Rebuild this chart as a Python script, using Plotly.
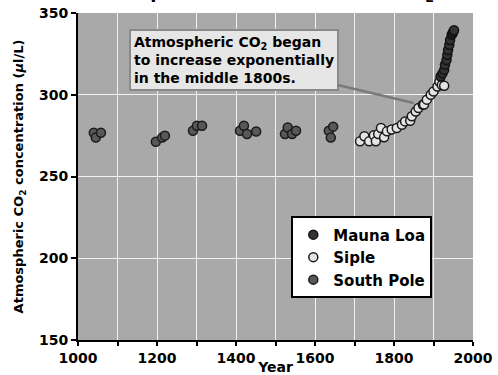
import plotly.graph_objects as go

# ---------------- data ----------------
south_pole_year = [1040, 1045, 1058, 1197, 1213, 1220, 1291, 1301, 1314,
                   1410, 1420, 1428, 1451, 1524, 1531, 1542, 1552, 1635, 1640, 1646]
south_pole_co2 = [276.8, 273.8, 276.8, 271.3, 273.8, 275.0, 278.0, 281.0, 281.0,
                  278.0, 281.0, 276.0, 277.5, 276.0, 280.0, 276.0, 278.0, 278.0, 273.8, 280.5]

siple_year = [1714, 1725, 1737, 1749, 1754, 1760, 1767, 1775, 1782, 1794, 1807, 1820,
              1828, 1841, 1845, 1855, 1862, 1873, 1876, 1883, 1893, 1900, 1910, 1915,
              1921, 1927]
siple_co2 = [271.5, 274.6, 271.5, 275.2, 271.5, 276.0, 279.7, 274.0, 277.6, 278.7, 279.7,
             281.7, 283.7, 284.1, 286.8, 289.8, 291.9, 293.9, 294.0, 297.0, 300.0, 302.0,
             305.0, 308.0, 306.0, 305.5]

mauna_loa_year = [1918, 1923, 1927, 1929, 1933, 1935, 1937, 1940, 1942, 1946, 1948, 1950, 1952]
mauna_loa_co2 = [311.2, 313.2, 315.2, 318.3, 321.3, 324.4, 327.4, 330.5, 333.5, 336.6,
                 337.5, 338.6, 339.5]

x_label_vals = [1000, 1200, 1400, 1600, 1800, 2000]
x_minor_vals = [1000, 1100, 1200, 1300, 1400, 1500, 1600, 1700, 1800, 1900, 2000]
y_tick_vals = [150, 200, 250, 300, 350]

FONT = "DejaVu Sans"
GRID = "#f2f2f2"

fig = go.Figure()

fig.add_trace(go.Scatter(
    x=south_pole_year, y=south_pole_co2, mode="markers", name="South Pole",
    marker=dict(size=9, color="#585858", line=dict(color="#1a1a1a", width=1.5)),
))
fig.add_trace(go.Scatter(
    x=siple_year, y=siple_co2, mode="markers", name="Siple",
    marker=dict(size=9, color="#e4e4e4", line=dict(color="#1a1a1a", width=1.5)),
))
fig.add_trace(go.Scatter(
    x=mauna_loa_year, y=mauna_loa_co2, mode="markers", name="Mauna Loa",
    marker=dict(size=9, color="#333333", line=dict(color="#111111", width=1.5)),
))

fig.update_layout(
    width=498, height=375,
    margin=dict(l=78, r=25, t=13, b=35),
    paper_bgcolor="white",
    plot_bgcolor="#a9a9a9",
    font=dict(family=FONT, size=13, color="black", weight="bold"),
    showlegend=True,
    legend=dict(
        x=0.54, y=0.378, xanchor="left", yanchor="top",
        bgcolor="white", bordercolor="black", borderwidth=2,
        font=dict(family=FONT, size=15, color="black", weight="bold"),
        traceorder="reversed", itemwidth=30, tracegroupgap=0,
    ),
    xaxis=dict(
        range=[1000, 2000], tickvals=x_label_vals,
        showgrid=True, gridcolor=GRID, gridwidth=1,
        showline=True, linecolor="black", linewidth=2,
        ticks="outside", ticklen=4, tickwidth=1.5, tickcolor="black",
        minor=dict(tickvals=x_minor_vals, ticks="outside", ticklen=4, tickwidth=1.5,
                   tickcolor="black", showgrid=True, gridcolor=GRID, gridwidth=1),
        tickfont=dict(family=FONT, size=14, color="black", weight="bold"),
        zeroline=False, automargin=False,
        title=dict(text="Year", standoff=2,
                   font=dict(family=FONT, size=14, color="black", weight="bold")),
    ),
    yaxis=dict(
        range=[150, 350], tickvals=y_tick_vals,
        showgrid=True, gridcolor=GRID, gridwidth=1,
        showline=True, linecolor="black", linewidth=2,
        ticks="outside", ticklen=5, tickwidth=1.5, tickcolor="black",
        tickfont=dict(family=FONT, size=14, color="black", weight="bold"),
        zeroline=False, automargin=False,
        title=dict(text="Atmospheric CO<sub>2</sub> concentration (<i>μ</i>l/L)", standoff=12,
                   font=dict(family=FONT, size=13, color="black", weight="bold")),
    ),
)

# callout annotation
fig.add_annotation(
    x=1850, y=295, xref="x", yref="y",
    ax=1394, ay=321, axref="x", ayref="y",
    text="Atmospheric CO<sub>2</sub> began<br>to increase exponentially<br>in the middle 1800s.",
    align="left", showarrow=True, arrowhead=0, arrowwidth=2.5, arrowcolor="#7a7a7a",
    bgcolor="#e6e6e6", bordercolor="#8a8a8a", borderwidth=2, borderpad=3,
    font=dict(family=FONT, size=14, color="black", weight="bold"),
)

# title, mostly above the visible page as in the reference
fig.add_annotation(
    x=0.46, y=1.018, xref="paper", yref="paper", xanchor="center", yanchor="bottom",
    text="Atmospheric Concentration of CO<sub>2</sub>", showarrow=False,
    font=dict(family=FONT, size=18, color="black", weight="bold"),
)

fig.write_html("out.html", config={"displayModeBar": False},
               post_script="document.body.style.margin='0';")
